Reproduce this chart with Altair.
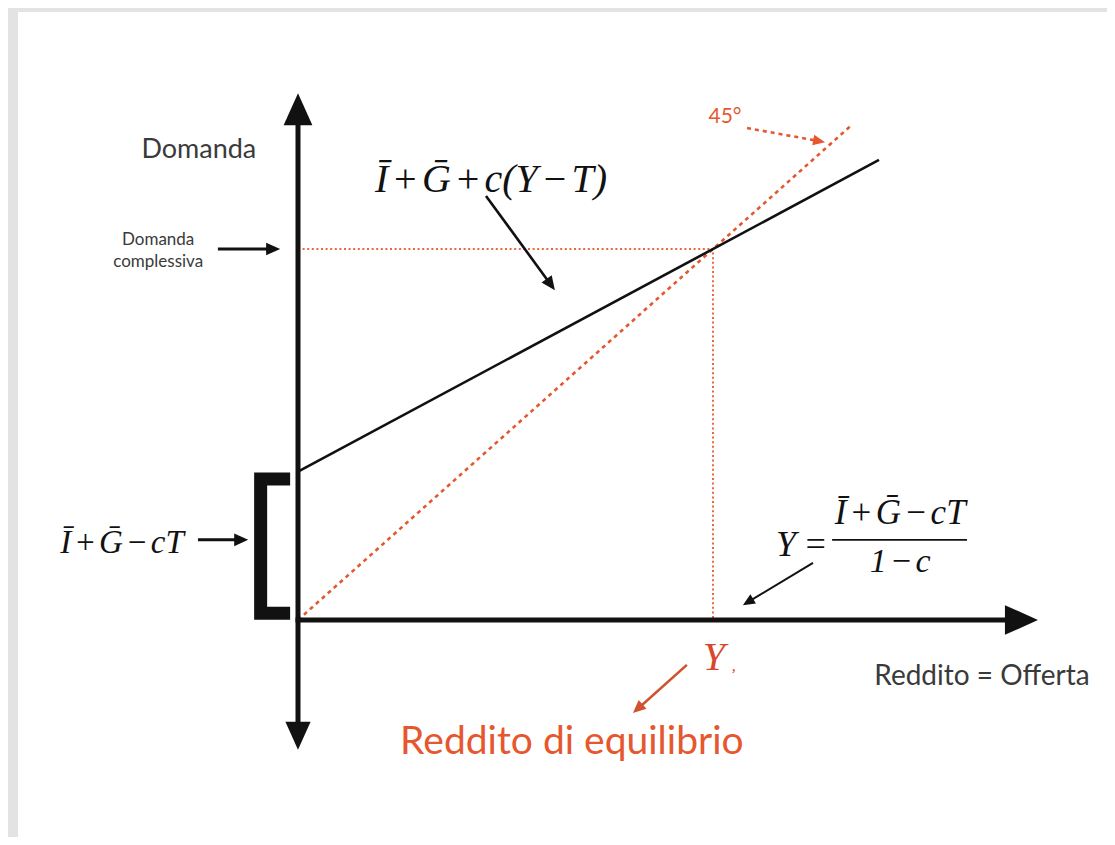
import math
import altair as alt
import pandas as pd

# ---------------- canvas / scale set-up ----------------
W, H = 1099, 829                 # whole chart (padding 0, autosize none)
ORIGIN_PX = (290, 612)           # where the two axes cross, in chart pixels
UNIT_PX = (41.5, 37.1)           # pixels per diagram unit (x, y)
x_dom = [-ORIGIN_PX[0] / UNIT_PX[0], (W - ORIGIN_PX[0]) / UNIT_PX[0]]
y_dom = [-(H - ORIGIN_PX[1]) / UNIT_PX[1], ORIGIN_PX[1] / UNIT_PX[1]]

ORANGE = "#e5582f"
BLACK = "#111111"
GREY_TXT = "#3a3a3a"
FRAME = "#e3e3e3"

# ---------------- data (diagram units) ----------------
# aggregate demand  D = Ī + Ḡ + c(Y - T)   (intercept 4, slope 0.6)
demand_x = [0.0, 14.0]
demand_y = [4.0, 12.4]
# 45 degree line  D = Y
line45_x = [0.0, 13.3]
line45_y = [0.0, 13.3]
# equilibrium guide lines (0,10) -> (10,10) -> (10,0)
guide_x = [0.0, 10.0, 10.0]
guide_y = [10.0, 10.0, 0.0]

# axes
axis_v_span = [-3.0, 13.4]       # vertical axis drawn at x = 0
axis_h_span = [-0.06, 17.1]      # horizontal axis drawn at y = 0
axis_tip_x = [0.0, 0.0, 17.83]
axis_tip_y = [14.2, -3.5, 0.0]
axis_tip_angle = [0, 180, 90]
axis_tip_len = [32, 28, 33]

# bracket marking the intercept Ī + Ḡ − cT
bracket_x = [-0.19, -0.90, -0.90, -0.19]
bracket_y = [3.80, 3.80, 0.18, 0.18]

# annotation arrows
arrow_start_x = [-1.93, 4.53, -2.41, 12.41, 9.37, 10.82]
arrow_start_y = [10.00, 11.43, 2.16, 1.54, -1.21, 13.26]
arrow_tip_x = [-0.43, 6.19, -1.20, 10.72, 8.07, 12.70]
arrow_tip_y = [10.00, 8.89, 2.16, 0.40, -2.51, 12.88]
arrow_color = [BLACK, BLACK, BLACK, BLACK, "#d0532f", ORANGE]
arrow_width = [3.0, 2.6, 3.0, 2.0, 2.6, 2.6]
arrow_head = [14, 14, 14, 12, 13, 12]
arrow_dashed = [False, False, False, False, False, True]

# fraction bar of the equilibrium formula
frac_x = [12.87, 16.12]
frac_y = [2.16, 2.16]

HS = "\u200a"
MI = "\u2212"
f_demand = f"Ī{HS}+{HS}G\u0304{HS}+{HS}c(Y{HS}{MI}{HS}T)"
f_auto = f"Ī{HS}+{HS}G\u0304{HS}{MI}{HS}cT"

text_label = ["Domanda", "Domanda", "complessiva", "Reddito = Offerta",
              "Reddito di equilibrio", "45°",
              f_demand, f_auto, "Y\u2009=", f_auto, f"1{HS}{MI}{HS}c",
              "Y", ","]
text_x = [-2.39, -3.37, -3.37, 16.48, 6.60, 10.29,
          4.65, -4.24, 12.14, 14.51, 14.51, 10.02, 10.50]
text_y = [12.67, 10.24, 9.65, -1.54, -3.29, 13.56,
          11.86, 2.08, 2.02, 2.88, 1.56, -1.02, -1.25]
text_size = [27, 17, 17, 28, 39, 21, 40, 33, 36, 35, 34, 40, 16]
text_color = [GREY_TXT, GREY_TXT, GREY_TXT, GREY_TXT, ORANGE, ORANGE,
              BLACK, BLACK, BLACK, BLACK, BLACK, "#d8462c", "#d8462c"]
text_group = ["sans"] * 6 + ["serif"] * 7

# ---------------- helpers ----------------
def X(f):
    return alt.X(f"{f}:Q", scale=alt.Scale(domain=x_dom, nice=False, zero=False), axis=None)


def Y(f):
    return alt.Y(f"{f}:Q", scale=alt.Scale(domain=y_dom, nice=False, zero=False), axis=None)


HEAD = "M0,0L0.45,1L-0.45,1Z"    # up-pointing wedge, tip at the anchor

# derived arrow geometry (direction in screen pixels)
arr_rows, head_rows = [], []
for i in range(len(arrow_start_x)):
    dx = (arrow_tip_x[i] - arrow_start_x[i]) * UNIT_PX[0]
    dy = -(arrow_tip_y[i] - arrow_start_y[i]) * UNIT_PX[1]
    n = math.hypot(dx, dy)
    ux, uy = dx / n, dy / n
    back = arrow_head[i] * 0.6
    ex = arrow_tip_x[i] - ux * back / UNIT_PX[0]
    ey = arrow_tip_y[i] + uy * back / UNIT_PX[1]
    ang = math.degrees(math.atan2(dx, -dy)) % 360
    arr_rows.append(dict(x=arrow_start_x[i], y=arrow_start_y[i], x2=ex, y2=ey,
                         color=arrow_color[i], w=arrow_width[i], dashed=arrow_dashed[i]))
    head_rows.append(dict(x=arrow_tip_x[i], y=arrow_tip_y[i], angle=ang,
                          size=(2 * arrow_head[i]) ** 2, color=arrow_color[i]))
for i in range(len(axis_tip_x)):
    head_rows.append(dict(x=axis_tip_x[i], y=axis_tip_y[i], angle=axis_tip_angle[i],
                          size=(2 * axis_tip_len[i]) ** 2, color=BLACK))

arr_df = pd.DataFrame(arr_rows)
head_df = pd.DataFrame(head_rows)

# ---------------- layers ----------------
one = pd.DataFrame({"a": [0]})
frame_left = alt.Chart(one).mark_rect(color=FRAME).encode(
    x=alt.value(0), x2=alt.value(10), y=alt.value(0), y2=alt.value(H))
frame_top = alt.Chart(one).mark_rect(color=FRAME).encode(
    x=alt.value(0), x2=alt.value(W), y=alt.value(0), y2=alt.value(4))

guide = alt.Chart(pd.DataFrame({"x": guide_x, "y": guide_y, "o": [0, 1, 2]})).mark_line(
    color=ORANGE, strokeWidth=2, strokeDash=[2, 2.6], opacity=0.9
).encode(x=X("x"), y=Y("y"), order="o:Q")

line45 = alt.Chart(pd.DataFrame({"x": line45_x, "y": line45_y})).mark_line(
    color=ORANGE, strokeWidth=2.6, strokeDash=[4, 4]
).encode(x=X("x"), y=Y("y"))

demand = alt.Chart(pd.DataFrame({"x": demand_x, "y": demand_y})).mark_line(
    color=BLACK, strokeWidth=2.6
).encode(x=X("x"), y=Y("y"))

axes_df = pd.DataFrame({
    "x": [0.0, axis_h_span[0]], "x2": [0.0, axis_h_span[1]],
    "y": [axis_v_span[0], 0.0], "y2": [axis_v_span[1], 0.0]})
axes = alt.Chart(axes_df).mark_rule(color=BLACK, strokeWidth=5).encode(
    x=X("x"), x2="x2:Q", y=Y("y"), y2="y2:Q")

bracket = alt.Chart(pd.DataFrame({"x": bracket_x, "y": bracket_y, "o": [0, 1, 2, 3]})).mark_line(
    color=BLACK, strokeWidth=13, strokeJoin="miter", strokeCap="butt"
).encode(x=X("x"), y=Y("y"), order="o:Q")

solid_arrows = alt.Chart(arr_df[~arr_df["dashed"]]).mark_rule(strokeCap="butt").encode(
    x=X("x"), x2="x2:Q", y=Y("y"), y2="y2:Q",
    color=alt.Color("color:N", scale=None),
    strokeWidth=alt.StrokeWidth("w:Q", scale=None))

dashed_arrows = alt.Chart(arr_df[arr_df["dashed"]]).mark_rule(strokeDash=[4, 4]).encode(
    x=X("x"), x2="x2:Q", y=Y("y"), y2="y2:Q",
    color=alt.Color("color:N", scale=None),
    strokeWidth=alt.StrokeWidth("w:Q", scale=None))

heads = alt.Chart(head_df).mark_point(shape=HEAD, filled=True, opacity=1, strokeWidth=0).encode(
    x=X("x"), y=Y("y"),
    angle=alt.Angle("angle:Q", scale=None),
    size=alt.Size("size:Q", scale=None),
    color=alt.Color("color:N", scale=None))

frac = alt.Chart(pd.DataFrame({"x": [frac_x[0]], "x2": [frac_x[1]], "y": [frac_y[0]]})).mark_rule(
    color=BLACK, strokeWidth=1.6).encode(x=X("x"), x2="x2:Q", y=Y("y"))

txt_df = pd.DataFrame({"label": text_label, "x": text_x, "y": text_y, "size": text_size,
                       "color": text_color, "group": text_group})

sans_text = alt.Chart(txt_df[txt_df["group"] == "sans"]).mark_text(
    font="Lato", baseline="middle", align="center").encode(
    x=X("x"), y=Y("y"), text="label:N",
    size=alt.Size("size:Q", scale=None), color=alt.Color("color:N", scale=None))

serif_text = alt.Chart(txt_df[txt_df["group"] == "serif"]).mark_text(
    font="Liberation Serif", fontStyle="italic", baseline="middle", align="center").encode(
    x=X("x"), y=Y("y"), text="label:N",
    size=alt.Size("size:Q", scale=None), color=alt.Color("color:N", scale=None))

chart = alt.layer(
    frame_left, frame_top, guide, line45, demand, axes, bracket,
    solid_arrows, dashed_arrows, heads, frac, sans_text, serif_text
).properties(
    width=W, height=H, padding=0, autosize="none", background="white"
).configure_view(stroke=None)

chart.save("out.html", embed_options={"renderer": "svg", "actions": False})
